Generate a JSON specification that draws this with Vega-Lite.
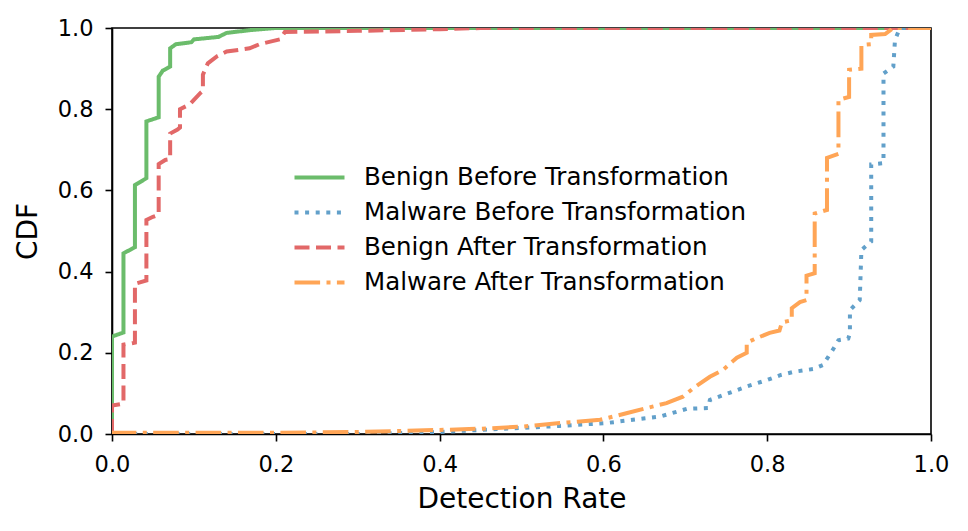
{
  "$schema": "https://vega.github.io/schema/vega-lite/v6.json",
  "width": 819,
  "height": 406,
  "autosize": {"type": "none"},
  "padding": {"left": 112, "top": 28, "right": 37, "bottom": 97},
  "background": "white",
  "config": {
    "font": "DejaVu Sans",
    "view": {"stroke": "black", "strokeWidth": 1.6},
    "axis": {
      "grid": false,
      "domainColor": "black",
      "domainWidth": 1.6,
      "tickColor": "black",
      "tickWidth": 1.6,
      "tickSize": 7,
      "labelFont": "DejaVu Sans",
      "labelFontSize": 22.5,
      "labelColor": "black",
      "titleFont": "DejaVu Sans",
      "titleFontSize": 28,
      "titleFontWeight": "normal",
      "titleColor": "black",
      "zindex": 1
    },
    "legend": {
      "labelFont": "DejaVu Sans",
      "labelFontSize": 24.5,
      "labelColor": "black",
      "labelLimit": 0
    }
  },
  "data": {
    "values": [
      {"s": "Benign Before Transformation", "o": 1, "x": 0, "y": 0},
      {"s": "Benign Before Transformation", "o": 2, "x": 0, "y": 0.24},
      {"s": "Benign Before Transformation", "o": 3, "x": 0.014, "y": 0.25},
      {"s": "Benign Before Transformation", "o": 4, "x": 0.014, "y": 0.445},
      {"s": "Benign Before Transformation", "o": 5, "x": 0.028, "y": 0.46},
      {"s": "Benign Before Transformation", "o": 6, "x": 0.028, "y": 0.613},
      {"s": "Benign Before Transformation", "o": 7, "x": 0.042, "y": 0.63},
      {"s": "Benign Before Transformation", "o": 8, "x": 0.042, "y": 0.77},
      {"s": "Benign Before Transformation", "o": 9, "x": 0.057, "y": 0.78},
      {"s": "Benign Before Transformation", "o": 10, "x": 0.057, "y": 0.88},
      {"s": "Benign Before Transformation", "o": 11, "x": 0.062, "y": 0.895},
      {"s": "Benign Before Transformation", "o": 12, "x": 0.071, "y": 0.905},
      {"s": "Benign Before Transformation", "o": 13, "x": 0.071, "y": 0.95},
      {"s": "Benign Before Transformation", "o": 14, "x": 0.078, "y": 0.96},
      {"s": "Benign Before Transformation", "o": 15, "x": 0.097, "y": 0.965},
      {"s": "Benign Before Transformation", "o": 16, "x": 0.1, "y": 0.972},
      {"s": "Benign Before Transformation", "o": 17, "x": 0.13, "y": 0.978},
      {"s": "Benign Before Transformation", "o": 18, "x": 0.14, "y": 0.988},
      {"s": "Benign Before Transformation", "o": 19, "x": 0.17, "y": 0.995},
      {"s": "Benign Before Transformation", "o": 20, "x": 0.2, "y": 1.0},
      {"s": "Benign Before Transformation", "o": 21, "x": 1.0, "y": 1.0},

      {"s": "Malware Before Transformation", "o": 1, "x": 0, "y": 0},
      {"s": "Malware Before Transformation", "o": 2, "x": 0.3, "y": 0.0},
      {"s": "Malware Before Transformation", "o": 3, "x": 0.35, "y": 0.002},
      {"s": "Malware Before Transformation", "o": 4, "x": 0.4, "y": 0.005},
      {"s": "Malware Before Transformation", "o": 5, "x": 0.45, "y": 0.01},
      {"s": "Malware Before Transformation", "o": 6, "x": 0.5, "y": 0.015},
      {"s": "Malware Before Transformation", "o": 7, "x": 0.547, "y": 0.02},
      {"s": "Malware Before Transformation", "o": 8, "x": 0.604, "y": 0.027},
      {"s": "Malware Before Transformation", "o": 9, "x": 0.636, "y": 0.035},
      {"s": "Malware Before Transformation", "o": 10, "x": 0.669, "y": 0.043},
      {"s": "Malware Before Transformation", "o": 11, "x": 0.702, "y": 0.062},
      {"s": "Malware Before Transformation", "o": 12, "x": 0.728, "y": 0.064},
      {"s": "Malware Before Transformation", "o": 13, "x": 0.73, "y": 0.084},
      {"s": "Malware Before Transformation", "o": 14, "x": 0.759, "y": 0.105},
      {"s": "Malware Before Transformation", "o": 15, "x": 0.775, "y": 0.117},
      {"s": "Malware Before Transformation", "o": 16, "x": 0.8, "y": 0.133},
      {"s": "Malware Before Transformation", "o": 17, "x": 0.816, "y": 0.145},
      {"s": "Malware Before Transformation", "o": 18, "x": 0.832, "y": 0.153},
      {"s": "Malware Before Transformation", "o": 19, "x": 0.856, "y": 0.16},
      {"s": "Malware Before Transformation", "o": 20, "x": 0.868, "y": 0.17},
      {"s": "Malware Before Transformation", "o": 21, "x": 0.88, "y": 0.207},
      {"s": "Malware Before Transformation", "o": 22, "x": 0.887, "y": 0.231},
      {"s": "Malware Before Transformation", "o": 23, "x": 0.899, "y": 0.235},
      {"s": "Malware Before Transformation", "o": 24, "x": 0.901, "y": 0.248},
      {"s": "Malware Before Transformation", "o": 25, "x": 0.901, "y": 0.305},
      {"s": "Malware Before Transformation", "o": 26, "x": 0.913, "y": 0.33},
      {"s": "Malware Before Transformation", "o": 27, "x": 0.915, "y": 0.453},
      {"s": "Malware Before Transformation", "o": 28, "x": 0.927, "y": 0.474},
      {"s": "Malware Before Transformation", "o": 29, "x": 0.927, "y": 0.664},
      {"s": "Malware Before Transformation", "o": 30, "x": 0.942, "y": 0.667},
      {"s": "Malware Before Transformation", "o": 31, "x": 0.942, "y": 0.888},
      {"s": "Malware Before Transformation", "o": 32, "x": 0.954, "y": 0.905},
      {"s": "Malware Before Transformation", "o": 33, "x": 0.956, "y": 0.97},
      {"s": "Malware Before Transformation", "o": 34, "x": 0.962, "y": 1.0},
      {"s": "Malware Before Transformation", "o": 35, "x": 1.0, "y": 1.0},

      {"s": "Benign After Transformation", "o": 1, "x": 0, "y": 0},
      {"s": "Benign After Transformation", "o": 2, "x": 0, "y": 0.07},
      {"s": "Benign After Transformation", "o": 3, "x": 0.014, "y": 0.075},
      {"s": "Benign After Transformation", "o": 4, "x": 0.014, "y": 0.22},
      {"s": "Benign After Transformation", "o": 5, "x": 0.028, "y": 0.225},
      {"s": "Benign After Transformation", "o": 6, "x": 0.028, "y": 0.37},
      {"s": "Benign After Transformation", "o": 7, "x": 0.042, "y": 0.378},
      {"s": "Benign After Transformation", "o": 8, "x": 0.042, "y": 0.527},
      {"s": "Benign After Transformation", "o": 9, "x": 0.05, "y": 0.535},
      {"s": "Benign After Transformation", "o": 10, "x": 0.057, "y": 0.54},
      {"s": "Benign After Transformation", "o": 11, "x": 0.057, "y": 0.665},
      {"s": "Benign After Transformation", "o": 12, "x": 0.065, "y": 0.675},
      {"s": "Benign After Transformation", "o": 13, "x": 0.071, "y": 0.677},
      {"s": "Benign After Transformation", "o": 14, "x": 0.071, "y": 0.74},
      {"s": "Benign After Transformation", "o": 15, "x": 0.08, "y": 0.75},
      {"s": "Benign After Transformation", "o": 16, "x": 0.083, "y": 0.755},
      {"s": "Benign After Transformation", "o": 17, "x": 0.083, "y": 0.8},
      {"s": "Benign After Transformation", "o": 18, "x": 0.095, "y": 0.812},
      {"s": "Benign After Transformation", "o": 19, "x": 0.108, "y": 0.84},
      {"s": "Benign After Transformation", "o": 20, "x": 0.111, "y": 0.845},
      {"s": "Benign After Transformation", "o": 21, "x": 0.111, "y": 0.885},
      {"s": "Benign After Transformation", "o": 22, "x": 0.117, "y": 0.913},
      {"s": "Benign After Transformation", "o": 23, "x": 0.128, "y": 0.93},
      {"s": "Benign After Transformation", "o": 24, "x": 0.14, "y": 0.942},
      {"s": "Benign After Transformation", "o": 25, "x": 0.168, "y": 0.95},
      {"s": "Benign After Transformation", "o": 26, "x": 0.18, "y": 0.96},
      {"s": "Benign After Transformation", "o": 27, "x": 0.205, "y": 0.972},
      {"s": "Benign After Transformation", "o": 28, "x": 0.211, "y": 0.99},
      {"s": "Benign After Transformation", "o": 29, "x": 0.3, "y": 0.993},
      {"s": "Benign After Transformation", "o": 30, "x": 0.4, "y": 0.997},
      {"s": "Benign After Transformation", "o": 31, "x": 0.45, "y": 1.0},
      {"s": "Benign After Transformation", "o": 32, "x": 1.0, "y": 1.0},

      {"s": "Malware After Transformation", "o": 1, "x": 0, "y": 0},
      {"s": "Malware After Transformation", "o": 2, "x": 0, "y": 0.003},
      {"s": "Malware After Transformation", "o": 3, "x": 0.2, "y": 0.003},
      {"s": "Malware After Transformation", "o": 4, "x": 0.3, "y": 0.005},
      {"s": "Malware After Transformation", "o": 5, "x": 0.4, "y": 0.01},
      {"s": "Malware After Transformation", "o": 6, "x": 0.45, "y": 0.013},
      {"s": "Malware After Transformation", "o": 7, "x": 0.5, "y": 0.018},
      {"s": "Malware After Transformation", "o": 8, "x": 0.547, "y": 0.027},
      {"s": "Malware After Transformation", "o": 9, "x": 0.596, "y": 0.035},
      {"s": "Malware After Transformation", "o": 10, "x": 0.628, "y": 0.051},
      {"s": "Malware After Transformation", "o": 11, "x": 0.661, "y": 0.068},
      {"s": "Malware After Transformation", "o": 12, "x": 0.677, "y": 0.076},
      {"s": "Malware After Transformation", "o": 13, "x": 0.697, "y": 0.092},
      {"s": "Malware After Transformation", "o": 14, "x": 0.71, "y": 0.113},
      {"s": "Malware After Transformation", "o": 15, "x": 0.73, "y": 0.141},
      {"s": "Malware After Transformation", "o": 16, "x": 0.746, "y": 0.158},
      {"s": "Malware After Transformation", "o": 17, "x": 0.763, "y": 0.188},
      {"s": "Malware After Transformation", "o": 18, "x": 0.775, "y": 0.2},
      {"s": "Malware After Transformation", "o": 19, "x": 0.775, "y": 0.225},
      {"s": "Malware After Transformation", "o": 20, "x": 0.787, "y": 0.236},
      {"s": "Malware After Transformation", "o": 21, "x": 0.803, "y": 0.249},
      {"s": "Malware After Transformation", "o": 22, "x": 0.815, "y": 0.255},
      {"s": "Malware After Transformation", "o": 23, "x": 0.818, "y": 0.275},
      {"s": "Malware After Transformation", "o": 24, "x": 0.83, "y": 0.28},
      {"s": "Malware After Transformation", "o": 25, "x": 0.83, "y": 0.31},
      {"s": "Malware After Transformation", "o": 26, "x": 0.84, "y": 0.325},
      {"s": "Malware After Transformation", "o": 27, "x": 0.848, "y": 0.33},
      {"s": "Malware After Transformation", "o": 28, "x": 0.848, "y": 0.39},
      {"s": "Malware After Transformation", "o": 29, "x": 0.858, "y": 0.396},
      {"s": "Malware After Transformation", "o": 30, "x": 0.858, "y": 0.543},
      {"s": "Malware After Transformation", "o": 31, "x": 0.873, "y": 0.552},
      {"s": "Malware After Transformation", "o": 32, "x": 0.873, "y": 0.68},
      {"s": "Malware After Transformation", "o": 33, "x": 0.887, "y": 0.69},
      {"s": "Malware After Transformation", "o": 34, "x": 0.887, "y": 0.823},
      {"s": "Malware After Transformation", "o": 35, "x": 0.9, "y": 0.83},
      {"s": "Malware After Transformation", "o": 36, "x": 0.9, "y": 0.897},
      {"s": "Malware After Transformation", "o": 37, "x": 0.915, "y": 0.9},
      {"s": "Malware After Transformation", "o": 38, "x": 0.915, "y": 0.958},
      {"s": "Malware After Transformation", "o": 39, "x": 0.927, "y": 0.96},
      {"s": "Malware After Transformation", "o": 40, "x": 0.927, "y": 0.983},
      {"s": "Malware After Transformation", "o": 41, "x": 0.944, "y": 0.985},
      {"s": "Malware After Transformation", "o": 42, "x": 0.954, "y": 1.0},
      {"s": "Malware After Transformation", "o": 43, "x": 1.0, "y": 1.0}
    ]
  },
  "mark": {"type": "line", "strokeWidth": 4, "clip": true, "strokeCap": "butt"},
  "encoding": {
    "x": {
      "field": "x",
      "type": "quantitative",
      "scale": {"domain": [0, 1], "nice": false, "zero": false},
      "axis": {"title": "Detection Rate", "values": [0, 0.2, 0.4, 0.6, 0.8, 1.0], "format": ".1f", "labelPadding": 12, "titlePadding": 10, "labelFlush": false}
    },
    "y": {
      "field": "y",
      "type": "quantitative",
      "scale": {"domain": [0, 1], "nice": false, "zero": false},
      "axis": {"title": "CDF", "values": [0, 0.2, 0.4, 0.6, 0.8, 1.0], "format": ".1f", "labelPadding": 12, "titlePadding": 15, "labelFlush": false}
    },
    "order": {"field": "o", "type": "quantitative"},
    "color": {
      "field": "s",
      "type": "nominal",
      "scale": {
        "domain": ["Benign Before Transformation", "Malware Before Transformation", "Benign After Transformation", "Malware After Transformation"],
        "range": ["#6bbc6b", "#62a0ca", "#e26868", "#ffa556"]
      },
      "legend": {
        "title": null,
        "orient": "none",
        "legendX": 193,
        "legendY": 135,
        "padding": 0,
        "symbolType": "M-2,0H2",
        "symbolSize": 625,
        "symbolStrokeWidth": 4,
        "labelOffset": 30,
        "rowPadding": 9
      }
    },
    "strokeDash": {
      "field": "s",
      "type": "nominal",
      "scale": {
        "domain": ["Benign Before Transformation", "Malware Before Transformation", "Benign After Transformation", "Malware After Transformation"],
        "range": [[1, 0], [4, 6.6], [15, 6.5], [25.6, 6.4, 4, 6.4]]
      },
      "legend": {
        "title": null,
        "orient": "none",
        "legendX": 193,
        "legendY": 135,
        "padding": 0,
        "symbolType": "M-2,0H2",
        "symbolSize": 625,
        "symbolStrokeWidth": 4,
        "labelOffset": 30,
        "rowPadding": 9
      }
    }
  }
}
